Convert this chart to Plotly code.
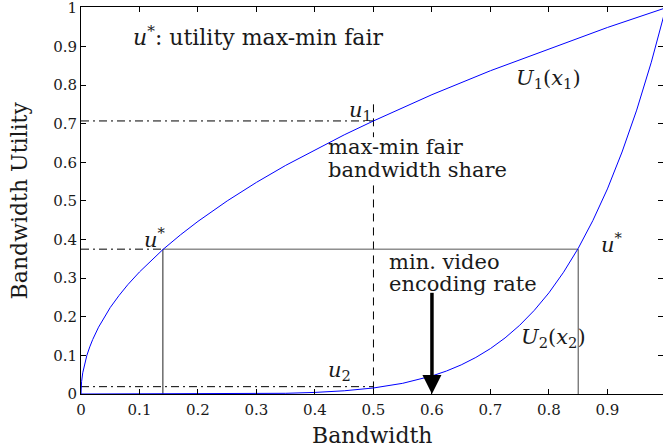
import plotly.graph_objects as go

# ---- data ----
x1 = [0, 0.001, 0.003, 0.006, 0.01, 0.015, 0.02, 0.03, 0.04, 0.05, 0.065, 0.08, 0.1, 0.12,
      0.14, 0.17, 0.2, 0.25, 0.3, 0.35, 0.4, 0.45, 0.5, 0.6, 0.7, 0.8, 0.9, 1.0]
u1 = [0, 0.032, 0.055, 0.077, 0.1, 0.122, 0.141, 0.173, 0.2, 0.224, 0.255, 0.283, 0.316, 0.346,
      0.374, 0.412, 0.447, 0.5, 0.548, 0.592, 0.632, 0.671, 0.707, 0.775, 0.837, 0.894, 0.949, 1.0]

x2 = [0, 0.1, 0.2, 0.3, 0.35, 0.4, 0.45, 0.5, 0.55, 0.6, 0.625, 0.65, 0.675, 0.7, 0.725, 0.75,
      0.775, 0.8, 0.825, 0.85, 0.875, 0.9, 0.925, 0.95, 0.975, 1.0]
u2 = [0, 0.0, 0.0001, 0.0007, 0.0018, 0.0041, 0.0083, 0.0156, 0.0277, 0.0467, 0.0596, 0.0754,
      0.0946, 0.1176, 0.1452, 0.178, 0.2167, 0.262, 0.3153, 0.377, 0.4488, 0.531, 0.6266, 0.735,
      0.8591, 1.0]

u_star = 0.375
x_star1 = 0.14
x_star2 = 0.85
x_fair = 0.5
u1_level = 0.707
u2_level = 0.019
fair_top = 0.75
fair_gap = [0.665, 0.54]   # the dashed line is hidden behind the "max-min fair" text
arrow_x = 0.6
arrow_top = 0.262

x_ticks = [0, 0.1, 0.2, 0.3, 0.4, 0.5, 0.6, 0.7, 0.8, 0.9]
x_ticktext = ["0", "0.1", "0.2", "0.3", "0.4", "0.5", "0.6", "0.7", "0.8", "0.9"]
y_ticks = [0, 0.1, 0.2, 0.3, 0.4, 0.5, 0.6, 0.7, 0.8, 0.9, 1.0]
y_ticktext = ["0", "0.1", "0.2", "0.3", "0.4", "0.5", "0.6", "0.7", "0.8", "0.9", "1"]

FONT = "DejaVu Serif"
TXT = "#1a1a1a"
DASHDOT = "8px,4px,2px,4px"

fig = go.Figure()

def line(xs, ys, color="black", dash="solid", width=1):
    fig.add_trace(go.Scatter(x=xs, y=ys, mode="lines", hoverinfo="skip", showlegend=False,
                             line=dict(color=color, dash=dash, width=width)))

# reference lines
line([0, x_fair], [u1_level, u1_level], dash=DASHDOT)
line([x_fair, x_fair], [fair_top, fair_gap[0]], dash="8px,6px")
line([x_fair, x_fair], [fair_gap[1], 0], dash="8px,6px")
line([0, x_star1], [u_star, u_star], dash=DASHDOT)
line([0, x_fair], [u2_level, u2_level], dash=DASHDOT)
line([x_star1, x_star2], [u_star, u_star], color="#555555")
line([x_star1, x_star1], [u_star, 0], color="#222222")
line([x_star2, x_star2], [u_star, 0], color="#444444")

# utility curves
line(x1, u1, color="#0000ff")
line(x2, u2, color="#0000ff")

# arrow (shaft + head)
line([arrow_x, arrow_x], [arrow_top, 0.03], color="black", width=3.5)
fig.add_trace(go.Scatter(x=[arrow_x], y=[0], mode="markers", hoverinfo="skip", showlegend=False,
                         marker=dict(symbol="arrow-down", size=19, color="black",
                                     line=dict(width=0))))

def label(x, y, text, size=21):
    fig.add_annotation(x=x, y=y, xref="x", yref="y", text=text, showarrow=False,
                       xanchor="left", yanchor="middle", align="left",
                       font=dict(family=FONT, size=size, color=TXT), borderpad=0)

label(0.087, 0.926, "<i>u</i><sup>*</sup>: utility max-min fair", size=22)
label(0.742, 0.815, "<i>U</i><sub>1</sub>(<i>x</i><sub>1</sub>)")
label(0.456, 0.733, "<i>u</i><sub>1</sub>")
label(0.42, 0.639, "max-min fair")
label(0.42, 0.579, "bandwidth share")
label(0.106, 0.405, "<i>u</i><sup>*</sup>")
label(0.887, 0.390, "<i>u</i><sup>*</sup>")
label(0.525, 0.341, "min. video")
label(0.525, 0.284, "encoding rate")
label(0.75, 0.145, "<i>U</i><sub>2</sub>(<i>x</i><sub>2</sub>)")
label(0.42, 0.060, "<i>u</i><sub>2</sub>")

# axis titles
fig.add_annotation(x=0.5, y=-0.106, xref="paper", yref="paper", text="Bandwidth",
                   showarrow=False, xanchor="center", yanchor="middle",
                   font=dict(family=FONT, size=22, color=TXT))
fig.add_annotation(x=-0.105, y=0.5, xref="paper", yref="paper", text="Bandwidth Utility",
                   showarrow=False, xanchor="center", yanchor="middle", textangle=-90,
                   font=dict(family=FONT, size=22, color=TXT))

axis_common = dict(showgrid=False, zeroline=False, showline=True, linecolor="black", linewidth=1,
                   ticks="inside", ticklen=5, tickwidth=1, tickcolor="black", mirror="ticks",
                   automargin=False, ticklabeloverflow="allow",
                   tickfont=dict(family=FONT, size=15, color=TXT))

fig.update_layout(
    width=663, height=448,
    margin=dict(l=81, r=0, t=7, b=54, pad=0, autoexpand=False),
    paper_bgcolor="white", plot_bgcolor="white",
    font=dict(family=FONT),
    xaxis=dict(range=[0, 0.995], tickvals=x_ticks, ticktext=x_ticktext,
               ticklabelstandoff=2, **axis_common),
    yaxis=dict(range=[0, 1.002], tickvals=y_ticks, ticktext=y_ticktext, **axis_common),
)

fig.write_html("out.html", config={"displayModeBar": False},
               post_script="document.body.style.margin='0';document.body.style.padding='0';")
